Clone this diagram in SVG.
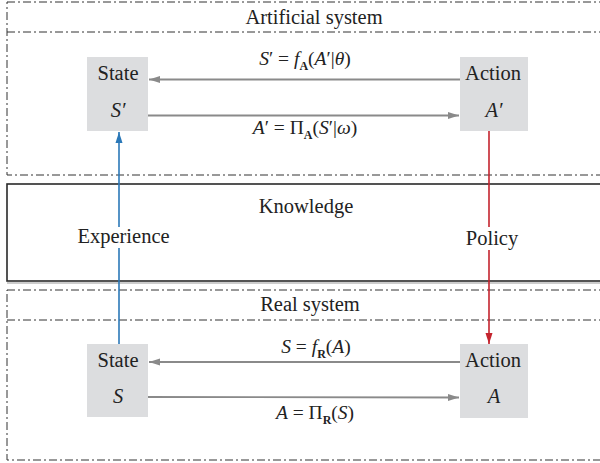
<svg xmlns="http://www.w3.org/2000/svg" width="600" height="463" viewBox="0 0 600 463">
<defs>
<marker id="ag" markerUnits="userSpaceOnUse" markerWidth="12" markerHeight="8" refX="11" refY="4" orient="auto"><path d="M0,0.5 L11,4 L0,7.5 Z" fill="#8a8a8a"/></marker>
<marker id="ab" markerUnits="userSpaceOnUse" markerWidth="12" markerHeight="8" refX="11" refY="4" orient="auto"><path d="M0,0.5 L11,4 L0,7.5 Z" fill="#2b78b8"/></marker>
<marker id="ar" markerUnits="userSpaceOnUse" markerWidth="12" markerHeight="8" refX="11" refY="4" orient="auto"><path d="M0,0.5 L11,4 L0,7.5 Z" fill="#c4242e"/></marker>
</defs>
<rect width="600" height="463" fill="#fff"/>

<g font-family="Liberation Serif" font-size="20.5" fill="#222" text-anchor="middle">
<g id="artificial-system">
<rect x="7" y="2" width="620" height="173" fill="none" stroke="#333" stroke-width="1" stroke-dasharray="8 3 2 3"/>
<line x1="7" y1="32" x2="627" y2="32" stroke="#333" stroke-width="1" stroke-dasharray="8 3 2 3"/>
<text x="314" y="24">Artificial system</text>
</g>

<g id="knowledge">
<line x1="7" y1="283" x2="627" y2="283" stroke="#bbb" stroke-width="1.5"/>
<rect x="7" y="184" width="620" height="97" fill="none" stroke="#2a2a2a" stroke-width="1.6"/>
<text x="306" y="213">Knowledge</text>
</g>

<g id="real-system">
<rect x="7" y="290" width="620" height="170" fill="none" stroke="#333" stroke-width="1" stroke-dasharray="8 3 2 3"/>
<line x1="7" y1="320" x2="627" y2="320" stroke="#333" stroke-width="1" stroke-dasharray="8 3 2 3"/>
<text x="310" y="311">Real system</text>
</g>

<g id="state-artificial">
<rect x="87" y="57" width="61" height="74" fill="#dcdddf"/>
<text x="118" y="80">State</text>
<text x="118" y="117" font-style="italic">S′</text>
</g>

<g id="action-artificial">
<rect x="460" y="57" width="68" height="74" fill="#dcdddf"/>
<text x="493" y="80">Action</text>
<text x="494" y="117" font-style="italic">A′</text>
</g>

<g id="state-real">
<rect x="87" y="344" width="61" height="73" fill="#dcdddf"/>
<text x="118" y="367">State</text>
<text x="118" y="403" font-style="italic">S</text>
</g>

<g id="action-real">
<rect x="460" y="344" width="68" height="74" fill="#dcdddf"/>
<text x="493" y="367">Action</text>
<text x="494" y="403" font-style="italic">A</text>
</g>

<g id="connectors">
<g stroke="#8a8a8a" stroke-width="1.8" fill="none">
<line x1="460" y1="79.5" x2="149" y2="79.5" marker-end="url(#ag)"/>
<line x1="148" y1="115.5" x2="459" y2="115.5" marker-end="url(#ag)"/>
<line x1="460" y1="362" x2="149" y2="362" marker-end="url(#ag)"/>
<line x1="148" y1="397" x2="459" y2="397.5" marker-end="url(#ag)"/>
</g>
<line x1="119" y1="344" x2="119" y2="248" stroke="#2b78b8" stroke-width="1.6"/>
<line x1="119" y1="227" x2="119" y2="132" stroke="#2b78b8" stroke-width="1.6" marker-end="url(#ab)"/>
<line x1="489" y1="131" x2="489" y2="227" stroke="#c4242e" stroke-width="1.6"/>
<line x1="489" y1="250" x2="489" y2="344" stroke="#c4242e" stroke-width="1.6" marker-end="url(#ar)"/>
<g font-size="19.5">
<text x="305" y="65"><tspan font-style="italic">S</tspan>′ = <tspan font-style="italic">f</tspan><tspan font-size="12" font-weight="bold" dy="5">A</tspan><tspan dy="-5">(</tspan><tspan font-style="italic">A</tspan>′|<tspan font-style="italic">θ</tspan>)</text>
<text x="305" y="134"><tspan font-style="italic">A</tspan>′ = Π<tspan font-size="12" font-weight="bold" dy="5">A</tspan><tspan dy="-5">(</tspan><tspan font-style="italic">S</tspan>′|<tspan font-style="italic">ω</tspan>)</text>
<text x="316" y="353"><tspan font-style="italic">S</tspan> = <tspan font-style="italic">f</tspan><tspan font-size="12" font-weight="bold" dy="5">R</tspan><tspan dy="-5">(</tspan><tspan font-style="italic">A</tspan>)</text>
<text x="315" y="419"><tspan font-style="italic">A</tspan> = Π<tspan font-size="12" font-weight="bold" dy="5">R</tspan><tspan dy="-5">(</tspan><tspan font-style="italic">S</tspan>)</text>
</g>
<text x="123.5" y="243">Experience</text>
<text x="492" y="245">Policy</text>
</g>
</g>
</svg>
